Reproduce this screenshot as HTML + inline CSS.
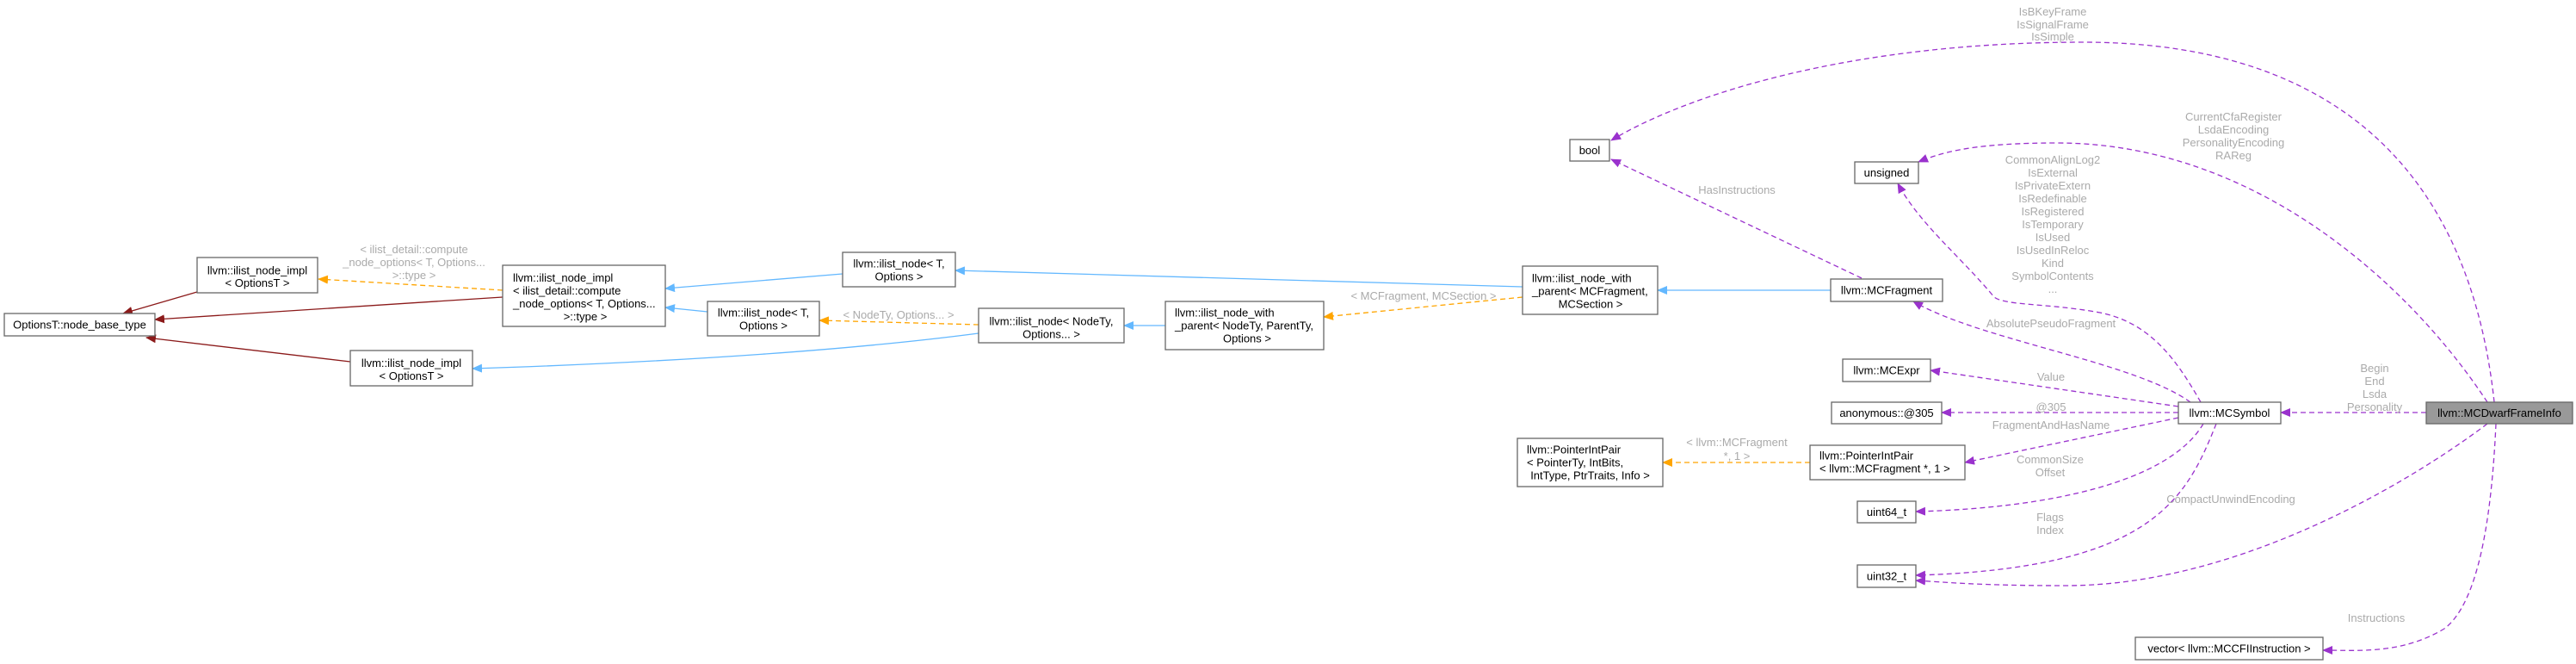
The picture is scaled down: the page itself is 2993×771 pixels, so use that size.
<!DOCTYPE html>
<html><head><meta charset="utf-8"><style>
html,body{margin:0;padding:0;background:#fff;}
svg{display:block;font-family:"Liberation Sans",Arial,sans-serif;}
.n{fill:#fff;stroke:#666;stroke-width:1.3;}
.t{font-size:13px;fill:#000;}
.l{font-size:13px;fill:#aaa;}
.e{fill:none;stroke-width:1.3;}
.b{stroke:#63b8ff;}
.r{stroke:#8b1a1a;}
.o{stroke:#ffa500;stroke-dasharray:6,4;}
.p{stroke:#9a32cd;stroke-dasharray:6,4;}
</style></head><body>
<svg width="2993" height="771" viewBox="0 0 2993 771" xmlns="http://www.w3.org/2000/svg">
<defs>
<marker id="mb" markerWidth="12" markerHeight="10" refX="11" refY="5" orient="auto" markerUnits="userSpaceOnUse"><path d="M0,0 L12,5 L0,10 z" fill="#63b8ff"/></marker>
<marker id="mr" markerWidth="12" markerHeight="10" refX="11" refY="5" orient="auto" markerUnits="userSpaceOnUse"><path d="M0,0 L12,5 L0,10 z" fill="#8b1a1a"/></marker>
<marker id="mo" markerWidth="12" markerHeight="10" refX="11" refY="5" orient="auto" markerUnits="userSpaceOnUse"><path d="M0,0 L12,5 L0,10 z" fill="#ffa500"/></marker>
<marker id="mp" markerWidth="12" markerHeight="10" refX="11" refY="5" orient="auto" markerUnits="userSpaceOnUse"><path d="M0,0 L12,5 L0,10 z" fill="#9a32cd"/></marker>
</defs>

<!-- edges left side -->
<path class="e r" d="M229,339 L143,364" marker-end="url(#mr)"/>
<path class="e r" d="M584,345 L180,371" marker-end="url(#mr)"/>
<path class="e r" d="M407,420 L170,392" marker-end="url(#mr)"/>
<path class="e o" d="M584,337 L370,324" marker-end="url(#mo)"/>
<path class="e b" d="M979,318 L773,335" marker-end="url(#mb)"/>
<path class="e b" d="M822,362 L773,357" marker-end="url(#mb)"/>
<path class="e o" d="M1137,377 L952,372" marker-end="url(#mo)"/>
<path class="e b" d="M1137,387 C1000,405 800,420 549,428" marker-end="url(#mb)"/>
<path class="e b" d="M1354,378 L1306,378" marker-end="url(#mb)"/>
<path class="e b" d="M1769,333 L1110,314" marker-end="url(#mb)"/>
<path class="e o" d="M1769,345 L1538,368" marker-end="url(#mo)"/>
<path class="e b" d="M2127,337 L1926,337" marker-end="url(#mb)"/>
<path class="e o" d="M2103,537 L1932,537" marker-end="url(#mo)"/>

<!-- purple edges -->
<path class="e p" d="M2163,323 L1872,185" marker-end="url(#mp)"/>
<path class="e p" d="M2898,467 C2880,300 2800,49 2420,49 C2150,49 1960,110 1872,163" marker-end="url(#mp)"/>
<path class="e p" d="M2890,467 C2800,330 2620,166 2390,166 C2300,166 2260,175 2229,188" marker-end="url(#mp)"/>
<path class="e p" d="M2557,467 C2530,420 2500,375 2440,363 C2380,352 2330,355 2317,345 C2280,300 2230,260 2205,213" marker-end="url(#mp)"/>
<path class="e p" d="M2545,467 C2480,420 2300,395 2223,350" marker-end="url(#mp)"/>
<path class="e p" d="M2531,472 L2243,430" marker-end="url(#mp)"/>
<path class="e p" d="M2531,479 L2256,479" marker-end="url(#mp)"/>
<path class="e p" d="M2531,485 L2283,537" marker-end="url(#mp)"/>
<path class="e p" d="M2560,492 C2520,560 2380,590 2226,594" marker-end="url(#mp)"/>
<path class="e p" d="M2575,492 C2540,580 2500,660 2226,668" marker-end="url(#mp)"/>
<path class="e p" d="M2890,492 C2800,560 2600,680 2400,680 C2300,680 2260,676 2226,674" marker-end="url(#mp)"/>
<path class="e p" d="M2900,492 C2895,600 2880,700 2840,730 C2790,760 2740,755 2699,755" marker-end="url(#mp)"/>
<path class="e p" d="M2819,479 L2650,479" marker-end="url(#mp)"/>

<!-- edge labels -->
<g class="l" text-anchor="middle">
<text x="481" y="294">&lt; ilist_detail::compute</text>
<text x="481" y="309">_node_options&lt; T, Options...</text>
<text x="481" y="324">&gt;::type &gt;</text>
<text x="1044" y="370">&lt; NodeTy, Options... &gt;</text>
<text x="1654" y="348">&lt; MCFragment, MCSection &gt;</text>
<text x="2018" y="518">&lt; llvm::MCFragment</text>
<text x="2018" y="534">*, 1 &gt;</text>
<text x="2018" y="225">HasInstructions</text>
<text x="2385" y="18">IsBKeyFrame</text>
<text x="2385" y="33">IsSignalFrame</text>
<text x="2385" y="47">IsSimple</text>
<text x="2595" y="140">CurrentCfaRegister</text>
<text x="2595" y="155">LsdaEncoding</text>
<text x="2595" y="170">PersonalityEncoding</text>
<text x="2595" y="185">RAReg</text>
<text x="2385" y="190">CommonAlignLog2</text>
<text x="2385" y="205">IsExternal</text>
<text x="2385" y="220">IsPrivateExtern</text>
<text x="2385" y="235">IsRedefinable</text>
<text x="2385" y="250">IsRegistered</text>
<text x="2385" y="265">IsTemporary</text>
<text x="2385" y="280">IsUsed</text>
<text x="2385" y="295">IsUsedInReloc</text>
<text x="2385" y="310">Kind</text>
<text x="2385" y="325">SymbolContents</text>
<text x="2385" y="340">...</text>
<text x="2383" y="380">AbsolutePseudoFragment</text>
<text x="2383" y="442">Value</text>
<text x="2383" y="477">@305</text>
<text x="2383" y="498">FragmentAndHasName</text>
<text x="2382" y="538">CommonSize</text>
<text x="2382" y="553">Offset</text>
<text x="2592" y="584">CompactUnwindEncoding</text>
<text x="2382" y="605">Flags</text>
<text x="2382" y="620">Index</text>
<text x="2759" y="432">Begin</text>
<text x="2759" y="447">End</text>
<text x="2759" y="462">Lsda</text>
<text x="2759" y="477">Personality</text>
<text x="2761" y="722">Instructions</text>
</g>

<!-- nodes -->
<rect class="n" x="5" y="364" width="175" height="26"/>
<text class="t" x="92.5" y="381.5" text-anchor="middle">OptionsT::node_base_type</text>

<rect class="n" x="229" y="299" width="140" height="41"/>
<text class="t" x="299" y="318.5" text-anchor="middle">llvm::ilist_node_impl</text>
<text class="t" x="299" y="333" text-anchor="middle">&lt; OptionsT &gt;</text>

<rect class="n" x="584" y="308" width="189" height="71"/>
<text class="t" x="596" y="327">llvm::ilist_node_impl</text>
<text class="t" x="596" y="342">&lt; ilist_detail::compute</text>
<text class="t" x="596" y="357">_node_options&lt; T, Options...</text>
<text class="t" x="680" y="372" text-anchor="middle">&gt;::type &gt;</text>

<rect class="n" x="407" y="407" width="142" height="41"/>
<text class="t" x="478" y="426" text-anchor="middle">llvm::ilist_node_impl</text>
<text class="t" x="478" y="441" text-anchor="middle">&lt; OptionsT &gt;</text>

<rect class="n" x="979" y="293" width="131" height="40"/>
<text class="t" x="1044.5" y="310.5" text-anchor="middle">llvm::ilist_node&lt; T,</text>
<text class="t" x="1044.5" y="325.5" text-anchor="middle">Options &gt;</text>

<rect class="n" x="822" y="350" width="130" height="40"/>
<text class="t" x="887" y="367.5" text-anchor="middle">llvm::ilist_node&lt; T,</text>
<text class="t" x="887" y="382.5" text-anchor="middle">Options &gt;</text>

<rect class="n" x="1137" y="358" width="169" height="40"/>
<text class="t" x="1221.5" y="377.5" text-anchor="middle">llvm::ilist_node&lt; NodeTy,</text>
<text class="t" x="1221.5" y="392.5" text-anchor="middle">Options... &gt;</text>

<rect class="n" x="1354" y="350" width="184" height="56"/>
<text class="t" x="1365" y="367.5">llvm::ilist_node_with</text>
<text class="t" x="1365" y="382.5">_parent&lt; NodeTy, ParentTy,</text>
<text class="t" x="1449" y="397.5" text-anchor="middle">Options &gt;</text>

<rect class="n" x="1769" y="309" width="157" height="56"/>
<text class="t" x="1780" y="327.5">llvm::ilist_node_with</text>
<text class="t" x="1780" y="342.5">_parent&lt; MCFragment,</text>
<text class="t" x="1848" y="357.5" text-anchor="middle">MCSection &gt;</text>

<rect class="n" x="2127" y="324" width="130" height="26"/>
<text class="t" x="2192" y="341.5" text-anchor="middle">llvm::MCFragment</text>

<rect class="n" x="1824" y="162" width="46" height="25"/>
<text class="t" x="1847" y="179" text-anchor="middle">bool</text>

<rect class="n" x="2155" y="188" width="74" height="25"/>
<text class="t" x="2192" y="205" text-anchor="middle">unsigned</text>

<rect class="n" x="2141" y="417" width="102" height="26"/>
<text class="t" x="2192" y="434.5" text-anchor="middle">llvm::MCExpr</text>

<rect class="n" x="2128" y="467" width="128" height="25"/>
<text class="t" x="2192" y="484" text-anchor="middle">anonymous::@305</text>

<rect class="n" x="2103" y="517" width="180" height="40"/>
<text class="t" x="2114" y="533.5">llvm::PointerIntPair</text>
<text class="t" x="2114" y="548.5">&lt; llvm::MCFragment *, 1 &gt;</text>

<rect class="n" x="1763" y="509" width="169" height="56"/>
<text class="t" x="1774" y="526.5">llvm::PointerIntPair</text>
<text class="t" x="1774" y="541.5">&lt; PointerTy, IntBits,</text>
<text class="t" x="1847.5" y="556.5" text-anchor="middle"> IntType, PtrTraits, Info &gt;</text>

<rect class="n" x="2158" y="582" width="68" height="25"/>
<text class="t" x="2192" y="599" text-anchor="middle">uint64_t</text>

<rect class="n" x="2158" y="656" width="68" height="26"/>
<text class="t" x="2192" y="673.5" text-anchor="middle">uint32_t</text>

<rect class="n" x="2531" y="467" width="119" height="25"/>
<text class="t" x="2590.5" y="484" text-anchor="middle">llvm::MCSymbol</text>

<rect x="2819" y="467" width="170" height="25" fill="#999" stroke="#666" stroke-width="1.3"/>
<text class="t" x="2904" y="484" text-anchor="middle">llvm::MCDwarfFrameInfo</text>

<rect class="n" x="2481" y="740" width="218" height="26"/>
<text class="t" x="2590" y="757.5" text-anchor="middle">vector&lt; llvm::MCCFIInstruction &gt;</text>
</svg>
</body></html>
